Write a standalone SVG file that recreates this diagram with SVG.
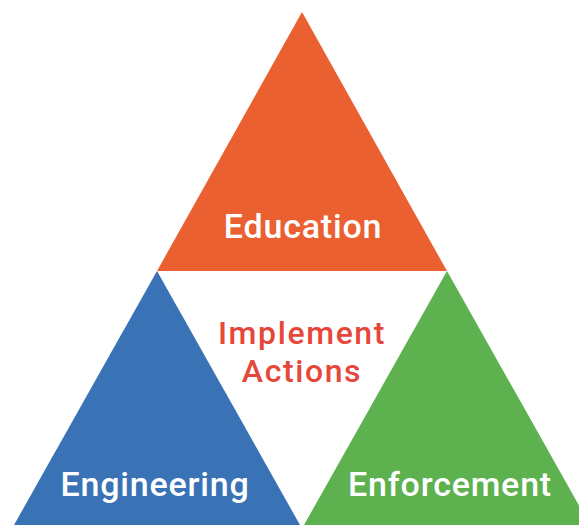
<svg xmlns="http://www.w3.org/2000/svg" width="579" height="525" viewBox="0 0 579 525">
<style>
.lbl{font-family:Roboto,"Noto Sans","Liberation Sans",sans-serif;font-size:34px;font-weight:500;text-anchor:middle;letter-spacing:0.8px}
.c{font-size:32px;letter-spacing:1.6px}
.w{fill:#ffffff}
.r{fill:#E6473A}
</style>
<rect width="579" height="525" fill="#ffffff"/>
<g id="education">
<polygon points="302,12 447,271 157,271" fill="#EA6030"/>
<text class="lbl w" x="303" y="238">Education</text>
</g>
<g id="engineering">
<polygon points="157,271 300,525 14,525" fill="#3973B5"/>
<text class="lbl w" x="155" y="496">Engineering</text>
</g>
<g id="enforcement">
<polygon points="447,271 590,525 304,525" fill="#5DB14F"/>
<text class="lbl w" x="450" y="496">Enforcement</text>
</g>
<g id="center">
<text class="lbl c r" x="302" y="344">Implement</text>
<text class="lbl c r" x="302" y="382">Actions</text>
</g>
<g id="connectors"></g>
</svg>
